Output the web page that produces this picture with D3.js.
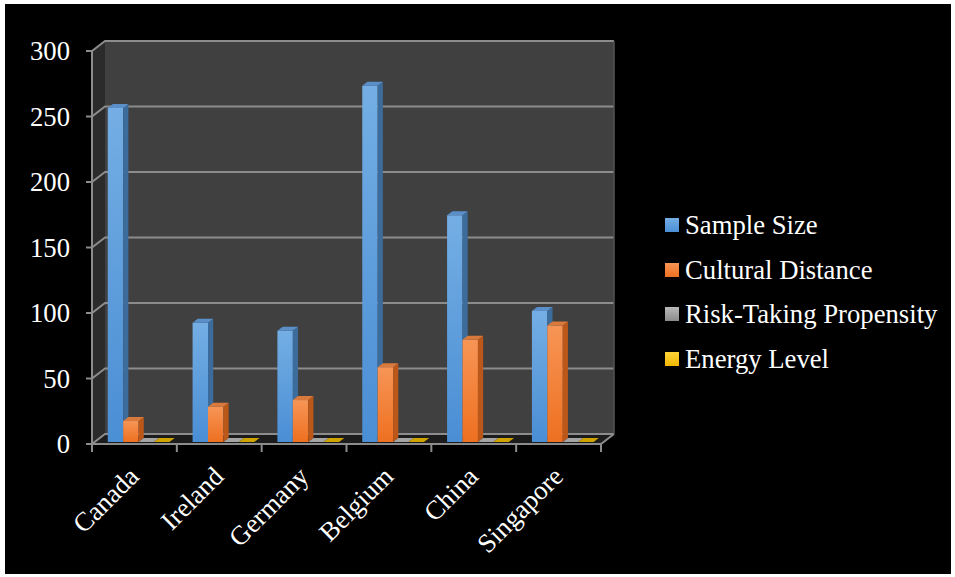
<!DOCTYPE html>
<html><head><meta charset="utf-8">
<script src="https://cdn.jsdelivr.net/npm/d3@7"></script>
<style>html,body{margin:0;padding:0;background:#fff;}svg{display:block;}</style>
</head><body>
<svg id="chart" width="955" height="577"></svg>
<script>
const categories = ["Canada","Ireland","Germany","Belgium","China","Singapore"];
const seriesNames = ["Sample Size","Cultural Distance","Risk-Taking Propensity","Energy Level"];
const sampleSize = [255, 91, 85, 272, 173, 100];
const culturalDistance = [16, 27, 32, 57, 78, 89];
const riskTaking = [0, 0, 0, 0, 0, 0];
const energyLevel = [0, 0, 0, 0, 0, 0];
const yTicks = [0, 50, 100, 150, 200, 250, 300];
const seriesValues = [sampleSize, culturalDistance, riskTaking, energyLevel];

(function () {
const svg = d3.select("#chart");
const font = "'Liberation Serif','Times New Roman',serif";
const fsize = "26.7px";

// layout
const plotL = 92, plotR = 601, plotT = 51, plotB = 444;
const DX = 13, DY = -10; // depth offset to back wall
const y = d3.scaleLinear().domain([0, 300]).range([plotB, plotT]);
const x0 = d3.scaleBand().domain(categories).range([plotL, plotR]).padding(0);
const catW = x0.bandwidth();
const bw = catW / 5.5;
const x1 = d3.scaleBand().domain(seriesNames).range([catW * 0.155, catW * 0.155 + 4 * bw]).padding(0);

const defs = svg.append("defs");
function grad(id, c1, c2) {
  const g = defs.append("linearGradient").attr("id", id).attr("x1", 0).attr("y1", 0).attr("x2", 0).attr("y2", 1);
  g.append("stop").attr("offset", "0%").attr("stop-color", c1);
  g.append("stop").attr("offset", "100%").attr("stop-color", c2);
}
const styles = [
  {front: ["#74aee4", "#4a8ed4"], side: "#3c6c9c", top: "#5a8fca"},
  {front: ["#f79556", "#ee7020"], side: "#bb5719", top: "#d97a3c"},
  {front: ["#b8b8b8", "#8c8c8c"], side: "#707070", top: "#a4a4a4"},
  {front: ["#ffd43a", "#f2b700"], side: "#a88000", top: "#cfa400"}
];
styles.forEach((s, i) => grad("g" + i, s.front[0], s.front[1]));

// outer black background
svg.append("rect").attr("x", 5).attr("y", 4).attr("width", 946).attr("height", 570).attr("fill", "#000");

const P = (px, v, t) => [px + DX * t, y(v) + DY * t];
const poly = pts => pts.map(p => p.join(",")).join(" ");

// back wall
svg.append("polygon").attr("points", poly([P(plotL,300,1),P(plotR,300,1),P(plotR,0,1),P(plotL,0,1)])).attr("fill", "#404040");
// left wall
svg.append("polygon").attr("points", poly([P(plotL,300,0),P(plotL,300,1),P(plotL,0,1),P(plotL,0,0)])).attr("fill", "#2b2b2b");
// floor
svg.append("polygon").attr("points", poly([P(plotL,0,0),P(plotR,0,0),P(plotR,0,1),P(plotL,0,1)])).attr("fill", "#1c1c1c");

// gridlines
const grid = svg.append("g").attr("stroke", "#8c8c8c").attr("stroke-width", 2).attr("fill", "none");
yTicks.forEach(v => {
  grid.append("polyline").attr("points", poly([P(plotL - 6, v, 0), P(plotL, v, 0), P(plotL, v, 1), P(plotR, v, 1)]));
});
// right edge of back wall
svg.append("line").attr("x1", plotR + DX).attr("x2", plotR + DX).attr("y1", y(300) + DY).attr("y2", y(0) + DY).attr("stroke", "#555").attr("stroke-width", 1.5);
// front vertical axis
svg.append("line").attr("x1", plotL).attr("x2", plotL).attr("y1", y(300)).attr("y2", y(0)).attr("stroke", "#8c8c8c").attr("stroke-width", 2);
// floor front edge and right edge
svg.append("polyline").attr("points", poly([P(plotL,0,0),P(plotR,0,0),P(plotR,0,1)])).attr("stroke", "#8c8c8c").attr("stroke-width", 2).attr("fill", "none");
// x ticks
const xt = categories.map(c => x0(c)).concat([plotR]);
svg.append("g").selectAll("line").data(xt).join("line")
  .attr("x1", d => d).attr("x2", d => d).attr("y1", y(0)).attr("y2", y(0) + 8)
  .attr("stroke", "#8c8c8c").attr("stroke-width", 2);

// y labels
svg.append("g").selectAll("text").data(yTicks).join("text")
  .attr("x", 70).attr("y", d => y(d)).attr("dy", "0.35em")
  .attr("text-anchor", "end").attr("fill", "#fff")
  .style("font-family", font).style("font-size", fsize)
  .text(d => d);

// bars
const t0 = 0.2, t1 = 0.6;
const barsG = svg.append("g");
categories.forEach((c, i) => {
  seriesNames.forEach((s, j) => {
    const v = seriesValues[j][i];
    const xa = x0(c) + x1(s), xb = xa + x1.bandwidth();
    const st = styles[j];
    if (v > 0) {
      barsG.append("polygon").attr("points", poly([P(xa,v,t0),P(xb,v,t0),P(xb,0,t0),P(xa,0,t0)])).attr("fill", `url(#g${j})`);
      barsG.append("polygon").attr("points", poly([P(xb,v,t0),P(xb,v,t1),P(xb,0,t1),P(xb,0,t0)])).attr("fill", st.side);
    }
    barsG.append("polygon").attr("points", poly([P(xa,v,t0),P(xb,v,t0),P(xb,v,t1),P(xa,v,t1)])).attr("fill", st.top);
  });
});

// x labels
svg.append("g").selectAll("text").data(categories).join("text")
  .attr("transform", d => `translate(${x0(d) + catW / 2 + 6},${478}) rotate(-45)`)
  .attr("text-anchor", "end").attr("fill", "#fff")
  .style("font-family", font).style("font-size", fsize)
  .text(d => d);

// legend
const legendY = [225, 270, 314, 359];
const lg = svg.append("g");
seriesNames.forEach((s, j) => {
  lg.append("rect").attr("x", 665).attr("y", legendY[j] - 7).attr("width", 14).attr("height", 14).attr("fill", `url(#g${j})`);
  lg.append("text").attr("x", 685).attr("y", legendY[j]).attr("dy", "0.35em")
    .attr("fill", "#fff").style("font-family", font).style("font-size", fsize).text(s);
});
})();
</script>
</body></html>
